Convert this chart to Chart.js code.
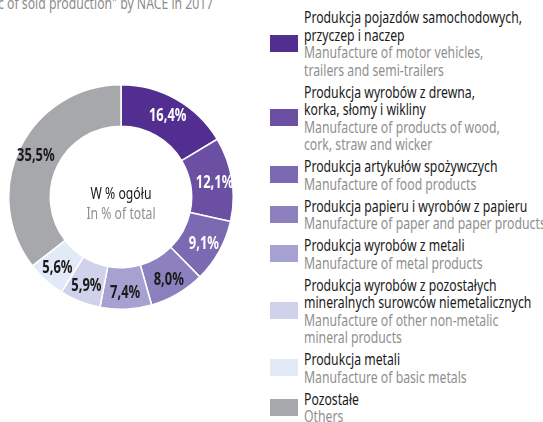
<!DOCTYPE html>
<html>
<head>
<meta charset="utf-8">
<script src="https://cdn.jsdelivr.net/npm/chart.js@4.4.1/dist/chart.umd.min.js"></script>
<style>
  html, body { margin: 0; padding: 0; background: #fff; }
  body { width: 543px; height: 422px; position: relative; overflow: hidden;
         font-family: "Noto Sans", sans-serif; }
  #title { position: absolute; left: -2px; top: -9px; font-size: 17px; color: #8c8c8c;
           white-space: nowrap; transform-origin: left top; }
  #pie { position: absolute; left: 8px; top: 84px; width: 226px; height: 226px; }
  #legend { position: absolute; left: 270px; top: 8px; width: 280px; }
  .item { display: flex; align-items: center; margin-bottom: 4.5px; }
  .sw { width: 28px; height: 17px; flex: none; margin-right: 6px; }
  .txt { font-size: 17px; line-height: 17.5px; white-space: pre; transform-origin: left center; }
  .pl { color: #1a1a1a; }
  .en { color: #8f8f8f; }
</style>
</head>
<body>
<div id="title">c of sold production" by NACE in 2017</div>
<div id="pie"><canvas id="shareChart"></canvas></div>
<div id="legend"></div>
<script>
// udział w produkcji sprzedanej wg sekcji PKD, %
const labelsPl = [
  'Produkcja pojazdów samochodowych,\nprzyczep i naczep',
  'Produkcja wyrobów z drewna,\nkorka, słomy i wikliny',
  'Produkcja artykułów spożywczych',
  'Produkcja papieru i wyrobów z papieru',
  'Produkcja wyrobów z metali',
  'Produkcja wyrobów z pozostałych\nmineralnych surowców niemetalicznych',
  'Produkcja metali',
  'Pozostałe'
];
const labelsEn = [
  'Manufacture of motor vehicles,\ntrailers and semi-trailers',
  'Manufacture of products of wood,\ncork, straw and wicker',
  'Manufacture of food products',
  'Manufacture of paper and paper products',
  'Manufacture of metal products',
  'Manufacture of other non-metalic\nmineral products',
  'Manufacture of basic metals',
  'Others'
];
const shares = [16.4, 12.1, 9.1, 8.0, 7.4, 5.9, 5.6, 35.5];
const colors = ['#522e91', '#6a4fa3', '#7b69b1', '#8c81be', '#a5a1d0', '#cfd2ea', '#e1eaf6', '#a7a8ab'];
const valueColors = ['#fff', '#fff', '#fff', '#1a1a1a', '#1a1a1a', '#1a1a1a', '#1a1a1a', '#1a1a1a'];

const fontName = '"Noto Sans", sans-serif';

// brak kroju wąskiego - ściskamy tekst w poziomie
var mctx = document.createElement('canvas').getContext('2d');
mctx.font = '17px ' + fontName;
const squeeze = 218 / mctx.measureText('Produkcja pojazdów samochodowych,').width;

document.getElementById('title').style.transform = 'scaleX(' + squeeze + ')';

// legenda po prawej
var legend = document.getElementById('legend');
labelsPl.forEach(function (pl, i) {
  var item = document.createElement('div');
  item.className = 'item';
  item.innerHTML = '<div class="sw" style="background:' + colors[i] + '"></div>' +
    '<div class="txt"><div class="pl"></div><div class="en"></div></div>';
  item.querySelector('.pl').textContent = pl;
  item.querySelector('.en').textContent = labelsEn[i];
  item.querySelector('.txt').style.transform = 'scaleX(' + squeeze + ')';
  legend.appendChild(item);
});

function squeezedText(ctx, text, x, y) {
  ctx.save();
  ctx.translate(x, y);
  ctx.scale(squeeze, 1);
  ctx.fillText(text, 0, 0);
  ctx.restore();
}

// wartości na pierścieniu + opis w środku
const ringLabels = {
  id: 'ringLabels',
  afterDatasetsDraw(chart) {
    const ctx = chart.ctx;
    const arcs = chart.getDatasetMeta(0).data;
    ctx.save();
    ctx.textAlign = 'center';
    ctx.textBaseline = 'middle';
    ctx.font = 'bold 18px ' + fontName;
    arcs.forEach(function (arc, i) {
      const mid = (arc.startAngle + arc.endAngle) / 2;
      const r = arc.innerRadius + (arc.outerRadius - arc.innerRadius) * 0.58;
      ctx.fillStyle = valueColors[i];
      squeezedText(ctx, shares[i].toFixed(1).replace('.', ',') + '%',
        arc.x + Math.cos(mid) * r, arc.y + Math.sin(mid) * r + 1);
    });
    const cx = arcs[0].x, cy = arcs[0].y;
    ctx.font = '17px ' + fontName;
    ctx.fillStyle = '#1a1a1a';
    squeezedText(ctx, 'W % ogółu', cx, cy - 3);
    ctx.fillStyle = '#8f8f8f';
    squeezedText(ctx, 'In % of total', cx, cy + 17);
    ctx.restore();
  }
};

var ctx1 = document.getElementById('shareChart');
const shareChart = new Chart(ctx1, {
  type: 'doughnut',
  data: {
    labels: labelsEn,
    datasets: [{
      data: shares,
      backgroundColor: colors,
      borderColor: '#fff',
      borderWidth: 1.5
    }]
  },
  options: {
    responsive: true,
    maintainAspectRatio: false,
    animation: false,
    cutout: '63%',
    layout: { padding: 0 },
    plugins: {
      legend: { display: false },
      tooltip: { enabled: false }
    }
  },
  plugins: [ringLabels]
});
</script>
</body>
</html>
